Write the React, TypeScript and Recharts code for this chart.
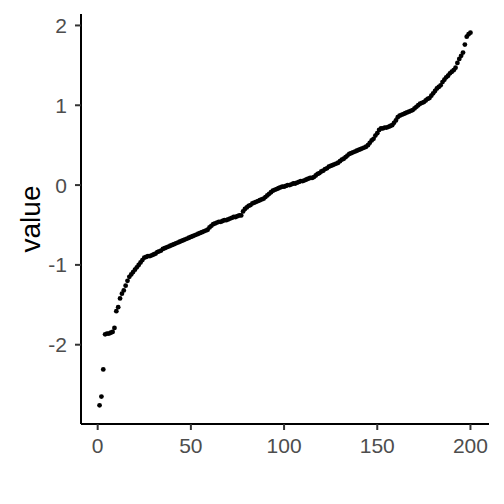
import { ScatterChart, Scatter, XAxis, YAxis } from 'recharts';

// sorted sample values (index 1..200)
const values = [
  -2.76, -2.65, -2.31, -1.87, -1.86, -1.86, -1.85, -1.84, -1.79, -1.58,
  -1.53, -1.42, -1.36, -1.32, -1.26, -1.2, -1.15, -1.12, -1.09, -1.06,
  -1.03, -1.0, -0.97, -0.94, -0.91, -0.9, -0.89, -0.89, -0.88, -0.87,
  -0.86, -0.84, -0.83, -0.82, -0.8, -0.79, -0.78, -0.77, -0.76, -0.75,
  -0.74, -0.73, -0.72, -0.71, -0.7, -0.69, -0.68, -0.67, -0.66, -0.65,
  -0.64, -0.63, -0.62, -0.61, -0.6, -0.59, -0.58, -0.57, -0.56, -0.53,
  -0.51, -0.49, -0.48, -0.47, -0.46, -0.46, -0.45, -0.44, -0.44, -0.43,
  -0.42, -0.41, -0.4, -0.4, -0.39, -0.38, -0.38, -0.33, -0.3, -0.28,
  -0.26, -0.25, -0.23, -0.22, -0.21, -0.2, -0.19, -0.18, -0.17, -0.15,
  -0.13, -0.11, -0.09, -0.07, -0.06, -0.05, -0.04, -0.03, -0.02, -0.02,
  -0.01, 0.0, 0.0, 0.01, 0.02, 0.02, 0.03, 0.04, 0.05, 0.05,
  0.06, 0.07, 0.08, 0.09, 0.09, 0.1, 0.12, 0.14, 0.15, 0.17,
  0.18, 0.2, 0.21, 0.23, 0.24, 0.25, 0.26, 0.27, 0.28, 0.3,
  0.32, 0.33, 0.35, 0.37, 0.39, 0.4, 0.41, 0.42, 0.43, 0.44,
  0.45, 0.46, 0.47, 0.48, 0.5, 0.53, 0.56, 0.58, 0.62, 0.65,
  0.69, 0.71, 0.71, 0.72, 0.72, 0.73, 0.74, 0.75, 0.78, 0.81,
  0.85, 0.87, 0.88, 0.89, 0.9, 0.91, 0.92, 0.93, 0.94, 0.96,
  0.98, 1.0, 1.02, 1.03, 1.04, 1.06, 1.08, 1.09, 1.12, 1.15,
  1.18, 1.21, 1.23, 1.25, 1.29, 1.32, 1.35, 1.37, 1.4, 1.42,
  1.44, 1.47, 1.53, 1.58, 1.62, 1.66, 1.76, 1.86, 1.89, 1.91,
];
const xTicks = [0, 50, 100, 150, 200];
const yTicks = [-2, -1, 0, 1, 2];

const data = values.map((v, i) => ({ index: i + 1, value: v }));

const font = '"Liberation Sans", Arial, sans-serif';

const Dot = (props: any) => <circle cx={props.cx} cy={props.cy} r={2.4} fill="#000" />;

const YLabel = () => (
  <text
    x={40}
    y={219}
    transform="rotate(-90 40 219)"
    textAnchor="middle"
    fontSize={28}
    fontFamily={font}
    fill="#000"
  >
    value
  </text>
);

export default function App() {
  return (
    <div style={{ position: 'absolute', left: 0, top: 0, width: 504, height: 504, background: '#fff' }}>
      <ScatterChart width={504} height={504} margin={{ top: 14, right: 15, bottom: 30, left: 21 }}>
        <XAxis
          type="number"
          dataKey="index"
          domain={[-8.95, 209.95]}
          ticks={xTicks}
          allowDataOverflow
          height={50}
          tickSize={6}
          tickMargin={8}
          axisLine={{ stroke: '#000', strokeWidth: 2 }}
          tickLine={{ stroke: '#333', strokeWidth: 2 }}
          tick={{ fill: '#4d4d4d', fontSize: 21, fontFamily: font }}
        />
        <YAxis
          type="number"
          dataKey="value"
          domain={[-2.9935, 2.1435]}
          ticks={yTicks}
          allowDataOverflow
          width={60}
          tickSize={6}
          tickMargin={8}
          axisLine={{ stroke: '#000', strokeWidth: 2 }}
          tickLine={{ stroke: '#333', strokeWidth: 2 }}
          tick={{ fill: '#4d4d4d', fontSize: 21, fontFamily: font }}
          label={<YLabel />}
        />
        <Scatter data={data} shape={Dot} isAnimationActive={false} />
      </ScatterChart>
    </div>
  );
}
